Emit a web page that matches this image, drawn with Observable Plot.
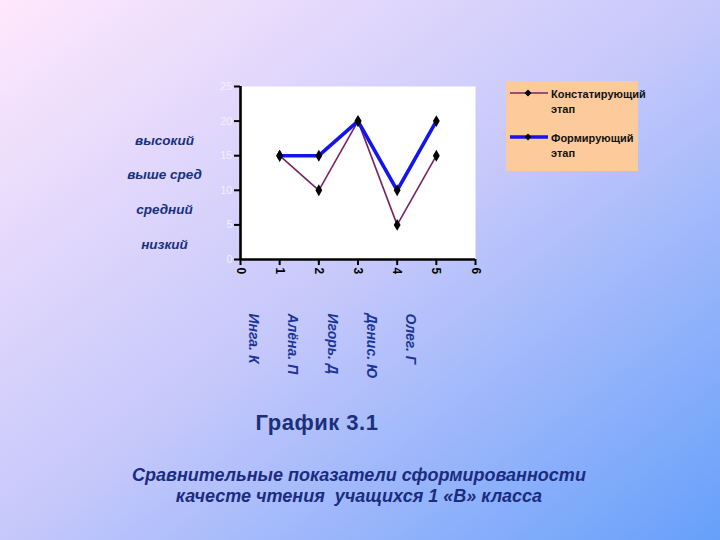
<!DOCTYPE html>
<html>
<head>
<meta charset="utf-8">
<script src="https://cdn.jsdelivr.net/npm/d3@7"></script>
<script src="https://cdn.jsdelivr.net/npm/@observablehq/plot@0.6"></script>
<style>
  html, body { margin: 0; padding: 0; }
  body {
    width: 720px; height: 540px; position: relative; overflow: hidden;
    background: linear-gradient(to bottom right, #ffe8fc 0%, #c6c8fb 50%, #66a0fa 100%);
    font-family: Arial, "Liberation Sans", sans-serif;
  }
  #chart { position: absolute; left: 0; top: 0; }
  #legend {
    position: absolute; left: 506px; top: 81px; width: 132px; height: 90px;
    background: #fdcb9b;
  }
  .lg-item { position: absolute; left: 4px; }
  .lg-text { position: absolute; left: 41px; top: -6px; font-size: 11px; font-weight: bold; color: #111; line-height: 15px; white-space: nowrap; }
  #title {
    position: absolute; left: 0; width: 634px; top: 410px; text-align: center;
    font-size: 22px; font-weight: bold; color: #1b2f7a; letter-spacing: 0.5px;
  }
  #subtitle {
    position: absolute; left: 0; width: 718px; top: 465px; text-align: center;
    font-size: 18px; font-weight: bold; font-style: italic; color: #1b2c80; line-height: 21px;
  }
</style>
</head>
<body>
<div id="chart"></div>
<div id="legend"></div>
<div id="title"></div>
<div id="subtitle"></div>
<script>
// ---- data ----
const students = [1, 2, 3, 4, 5];
const names = ["Инга. К", "Алёна. П", "Игорь. Д", "Денис. Ю", "Олег. Г"];
const konstat = [15, 10, 20, 5, 15];   // Констатирующий этап
const formir = [15, 15, 20, 10, 20];   // Формирующий этап
const seriesNames = ["Констатирующий этап", "Формирующий этап"];
const yTicks = [0, 5, 10, 15, 20, 25];
const xTicks = [0, 1, 2, 3, 4, 5, 6];
const levels = ["низкий", "средний", "выше сред", "высокий"];
const levelLow = [0, 5, 10, 15];
const levelHigh = [5, 10, 15, 20];
const titleText = "График 3.1";
const subtitleLines = ["Сравнительные показатели сформированности", "качесте чтения  учащихся 1 «В» класса"];

const colors = ["#762366", "#1414ee"];
const widths = [1.6, 3.6];

const rows = [];
students.forEach((s, i) => {
  rows.push({x: s, y: konstat[i], series: seriesNames[0]});
  rows.push({x: s, y: formir[i], series: seriesNames[1]});
});
const levelRows = levels.map((l, i) => ({label: l, y: (levelLow[i] + levelHigh[i]) / 2}));
const nameRows = names.map((n, i) => ({name: n, x: students[i]}));

const font = "Arial, 'Liberation Sans', sans-serif";

const plot = Plot.plot({
  width: 720,
  height: 540,
  marginLeft: 240,
  marginRight: 245,
  marginTop: 86,
  marginBottom: 281,
  style: {background: "transparent", fontFamily: font, overflow: "visible"},
  x: {domain: [0, 6]},
  y: {domain: [0, 25]},
  marks: [
    Plot.frame({fill: "white", stroke: "none"}),
    Plot.axisY({ticks: yTicks, tickFormat: d3.format("d"), tickSize: 6, tickPadding: 2, fontSize: 11, fill: "#f2f0ff", stroke: "black", strokeWidth: 2, label: null}),
    Plot.axisX({ticks: xTicks, tickFormat: d3.format("d"), tickSize: 6, tickPadding: 2, tickRotate: 90, fontSize: 12, fontWeight: "bold", fill: "black", stroke: "black", strokeWidth: 2, label: null}),
    Plot.ruleX([0], {stroke: "black", strokeWidth: 2.6}),
    Plot.ruleY([0], {stroke: "black", strokeWidth: 2.6}),
    Plot.line(rows.filter(d => d.series === seriesNames[0]), {x: "x", y: "y", stroke: colors[0], strokeWidth: widths[0]}),
    Plot.line(rows.filter(d => d.series === seriesNames[1]), {x: "x", y: "y", stroke: colors[1], strokeWidth: widths[1]}),
    Plot.dot(rows, {x: "x", y: "y", symbol: "diamond", r: 3.6, fill: "black", stroke: "none"}),
    Plot.text(levelRows, {frameAnchor: "left", y: "y", text: "label", dx: -76, dy: 2, textAnchor: "middle", fontSize: 13.5, fontStyle: "italic", fontWeight: "bold", fill: "#16307e"}),
    Plot.text(nameRows, {x: "x", y: () => 0, text: "name", dx: -26, dy: 54, rotate: 90, textAnchor: "start", fontSize: 14, fontStyle: "italic", fontWeight: "bold", fill: "#1a3597"})
  ]
});
document.getElementById("chart").appendChild(plot);

// legend
const legend = document.getElementById("legend");
const legendTops = [12, 56];
seriesNames.forEach((s, i) => {
  const item = document.createElement("div");
  item.className = "lg-item";
  item.style.top = legendTops[i] + "px";
  const svg = d3.create("svg").attr("width", 42).attr("height", 10).style("position", "absolute").style("left", "0px").style("top", "-5px");
  svg.append("line").attr("x1", 0).attr("x2", 38).attr("y1", 5).attr("y2", 5).attr("stroke", colors[i]).attr("stroke-width", widths[i]);
  svg.append("path").attr("d", "M18,1.5 L21.5,5 L18,8.5 L14.5,5 Z").attr("fill", "black");
  item.appendChild(svg.node());
  const t = document.createElement("div");
  t.className = "lg-text";
  const parts = s.split(" ");
  t.innerHTML = parts[0] + "<br>" + parts[1];
  item.appendChild(t);
  legend.appendChild(item);
});

document.getElementById("title").textContent = titleText;
document.getElementById("subtitle").innerHTML = subtitleLines.map(l => l.replace(/  /g, "&nbsp; ")).join("<br>");
</script>
</body>
</html>
